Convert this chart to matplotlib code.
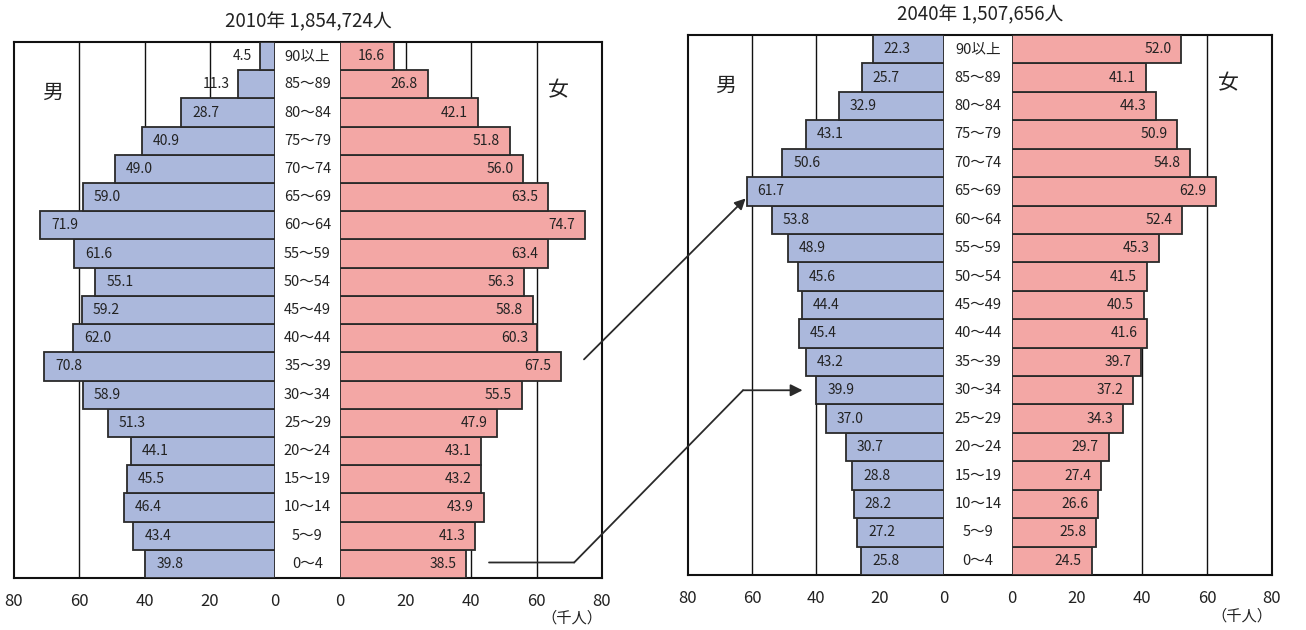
import matplotlib
matplotlib.use("Agg")
import matplotlib.pyplot as plt
from matplotlib.patches import ConnectionPatch
from matplotlib.transforms import blended_transform_factory
import numpy as np

plt.rcParams['font.family'] = ['Noto Sans CJK JP', 'DejaVu Sans']

# -----------------------------
# data (千人), bottom row first
# -----------------------------
AGES = ["0～4", "5～9", "10～14", "15～19", "20～24", "25～29", "30～34",
        "35～39", "40～44", "45～49", "50～54", "55～59", "60～64", "65～69",
        "70～74", "75～79", "80～84", "85～89", "90以上"]

MALE_2010 = [39.8, 43.4, 46.4, 45.5, 44.1, 51.3, 58.9, 70.8, 62.0, 59.2,
             55.1, 61.6, 71.9, 59.0, 49.0, 40.9, 28.7, 11.3, 4.5]
FEMALE_2010 = [38.5, 41.3, 43.9, 43.2, 43.1, 47.9, 55.5, 67.5, 60.3, 58.8,
               56.3, 63.4, 74.7, 63.5, 56.0, 51.8, 42.1, 26.8, 16.6]

MALE_2040 = [25.8, 27.2, 28.2, 28.8, 30.7, 37.0, 39.9, 43.2, 45.4, 44.4,
             45.6, 48.9, 53.8, 61.7, 50.6, 43.1, 32.9, 25.7, 22.3]
FEMALE_2040 = [24.5, 25.8, 26.6, 27.4, 29.7, 34.3, 37.2, 39.7, 41.6, 40.5,
               41.5, 45.3, 52.4, 62.9, 54.8, 50.9, 44.3, 41.1, 52.0]

TITLES = ["2010年 1,854,724人", "2040年 1,507,656人"]
TICKS = [0, 20, 40, 60, 80]

MALE_COLOR = "#abb8dc"
FEMALE_COLOR = "#f3a7a5"
EDGE = "#2a2a2a"
TEXT = "#222222"

W, H = 1306, 630
fig = plt.figure(figsize=(W / 100, H / 100), dpi=100)
fig.patch.set_facecolor("white")


def px_axes(x0, x1, top, bottom, **kw):
    # pixel box (y from top) -> figure axes
    return fig.add_axes([x0 / W, (H - bottom) / H, (x1 - x0) / W, (bottom - top) / H], **kw)


def side(ax, vals, color, male):
    y = np.arange(len(vals))
    ax.barh(y, vals, height=1.0, color=color, edgecolor=EDGE, linewidth=1.3, zorder=3)
    ax.set_xlim(80, 0) if male else ax.set_xlim(0, 80)
    ax.set_ylim(-0.5, len(vals) - 0.5)
    ax.set_facecolor("none")
    for s in ax.spines.values():
        s.set_visible(False)
    for g in (20, 40, 60):
        ax.axvline(g, color="#111111", lw=1.0, zorder=1)
    ax.set_yticks([])
    ax.set_xticks(TICKS)
    ax.set_xticklabels([str(t) for t in TICKS], fontsize=12, color=TEXT)
    ax.tick_params(axis="x", length=0, pad=11)
    for yi, v in zip(y, vals):
        if male:
            if v > 14:
                ax.annotate(f"{v:.1f}", (v, yi), xytext=(8, 0), textcoords="offset points",
                            ha="left", va="center", fontsize=10, color=TEXT, zorder=4)
            else:
                ax.annotate(f"{v:.1f}", (v, yi), xytext=(-6, 0), textcoords="offset points",
                            ha="right", va="center", fontsize=10, color=TEXT, zorder=4)
        else:
            ax.annotate(f"{v:.1f}", (v, yi), xytext=(-7, 0), textcoords="offset points",
                        ha="right", va="center", fontsize=10, color=TEXT, zorder=4)


def panel(x0, m0, f0, x1, top, bottom, males, females, title, unit_y):
    frame = px_axes(x0, x1, top, bottom)
    frame.set_xticks([])
    frame.set_yticks([])
    for s in frame.spines.values():
        s.set_linewidth(1.5)
        s.set_color("#111111")
    frame.set_zorder(0)

    axm = px_axes(x0, m0, top, bottom)
    axf = px_axes(f0, x1, top, bottom)
    side(axm, males, MALE_COLOR, True)
    side(axf, females, FEMALE_COLOR, False)

    # age labels in the middle column
    tr = blended_transform_factory(fig.transFigure, axm.transData)
    xc = (m0 + f0) / 2 / W
    for i, a in enumerate(AGES):
        fig.text(xc, i, a, transform=tr, ha="center", va="center", fontsize=10.5, color=TEXT)

    frame.text(0.065, 0.905, "男", transform=frame.transAxes, ha="center", va="center",
               fontsize=15, color=TEXT)
    frame.text(0.925, 0.91, "女", transform=frame.transAxes, ha="center", va="center",
               fontsize=15, color=TEXT)
    fig.text((x0 + x1) / 2 / W, 1 - (top - 20) / H, title, ha="center", va="center",
             fontsize=13.5, color=TEXT)
    fig.text((x1 - 30) / W, 1 - unit_y / H, "（千人）", ha="center", va="center",
             fontsize=11, color=TEXT)
    return axm, axf


axm1, axf1 = panel(14, 275, 340, 602, 42, 578, MALE_2010, FEMALE_2010, TITLES[0], 618)
axm2, axf2 = panel(688, 944, 1012, 1272, 35, 575, MALE_2040, FEMALE_2040, TITLES[1], 616)

# cohort arrows: 35-39 (2010) -> 65-69 (2040), 0-4 (2010) -> 30-34 (2040)
line_kw = dict(color="#2a2a2a", lw=1.3)
fig.add_artist(ConnectionPatch((74.5, 7.25), (62.0, 12.75), coordsA=axf1.transData,
                               coordsB=axm2.transData, arrowstyle="-|>",
                               mutation_scale=16, **line_kw))
fig.add_artist(ConnectionPatch((45.5, 0.05), (71.5, 0.05), coordsA=axf1.transData,
                               coordsB=axf1.transData, arrowstyle="-", **line_kw))
fig.add_artist(ConnectionPatch((71.5, 0.05), (62.8, 6.0), coordsA=axf1.transData,
                               coordsB=axm2.transData, arrowstyle="-", **line_kw))
fig.add_artist(ConnectionPatch((62.8, 6.0), (44.2, 6.0), coordsA=axm2.transData,
                               coordsB=axm2.transData, arrowstyle="-|>",
                               mutation_scale=18, **line_kw))

fig.savefig("out.png", dpi=100, facecolor="white")
